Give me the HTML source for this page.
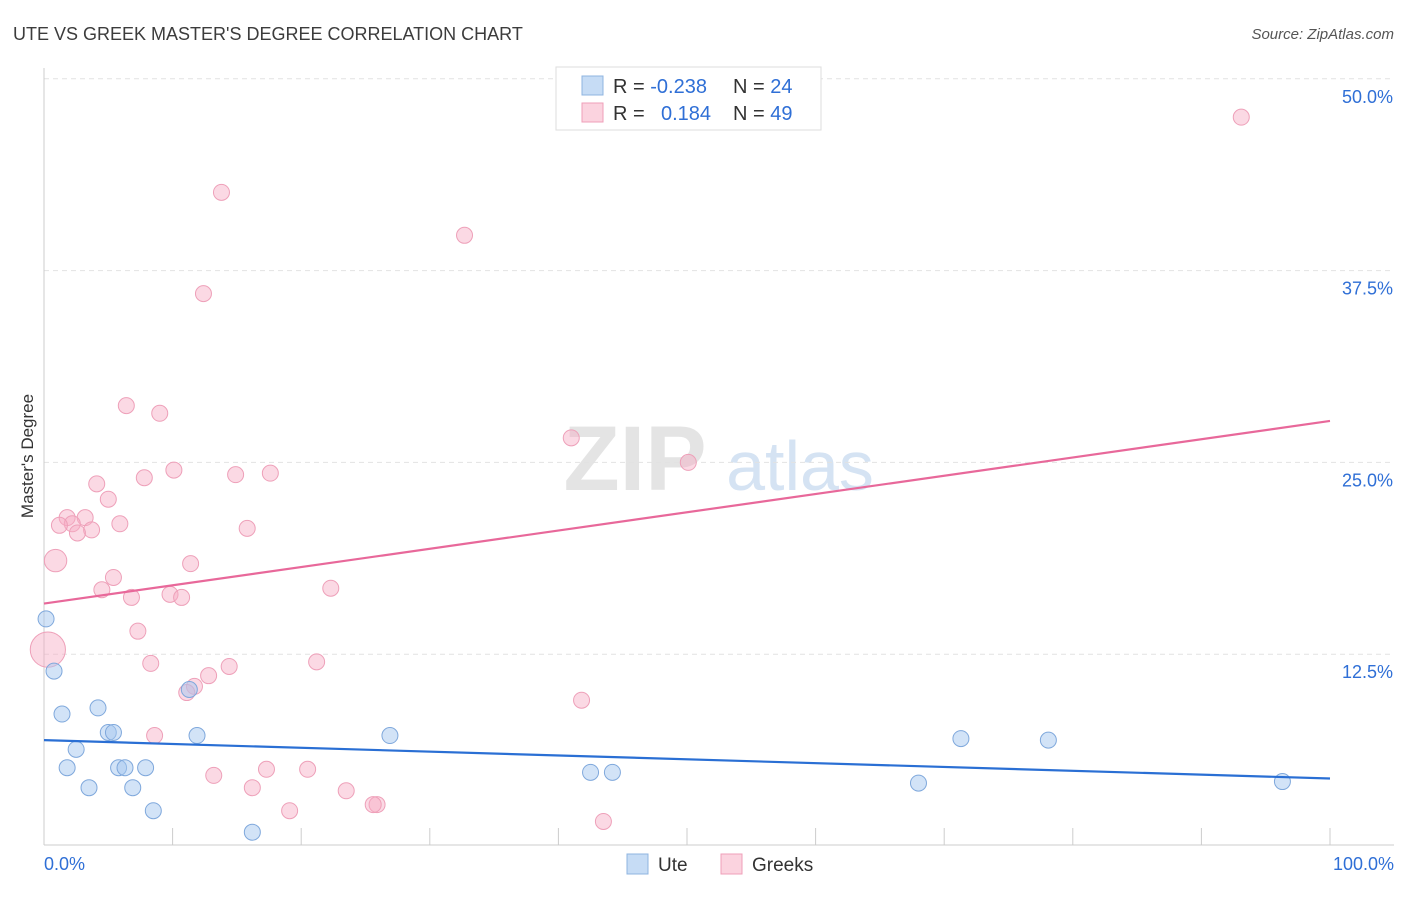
<!DOCTYPE html>
<html><head><meta charset="utf-8">
<style>
body{margin:0;background:#fff;font-family:"Liberation Sans",sans-serif;}
svg text{font-family:"Liberation Sans",sans-serif;}
</style></head>
<body>
<svg id="chart" width="1406" height="892" xmlns="http://www.w3.org/2000/svg">
<text x="13" y="40" font-size="18" fill="#3c3c3c">UTE VS GREEK MASTER'S DEGREE CORRELATION CHART</text>
<text x="1394" y="39" font-size="15" fill="#555" text-anchor="end" font-style="italic">Source: ZipAtlas.com</text>
<g>
<text x="635" y="490" font-size="92" fill="#e4e4e4" text-anchor="middle" font-family="Liberation Serif,serif" font-weight="bold">ZIP</text>
<text x="800" y="490" font-size="70" fill="#d5e3f3" text-anchor="middle">atlas</text>
</g>
<g id="grid"></g>
<g id="axes"></g>
<g id="marks"></g>
<text transform="translate(33,456) rotate(-90)" font-size="17" fill="#333" text-anchor="middle">Master's Degree</text>
<g>
<rect x="556" y="67" width="265" height="63" fill="#fff" stroke="#ddd"/>
<rect x="582" y="76" width="21" height="19" fill="#c6dcf5" stroke="#8fb4e0"/>
<rect x="582" y="103" width="21" height="19" fill="#fbd3df" stroke="#ef9fb8"/>
<text x="613" y="93" font-size="20" fill="#333">R = <tspan fill="#2f6fd6">-0.238</tspan></text>
<text x="733" y="93" font-size="20" fill="#333">N = <tspan fill="#2f6fd6">24</tspan></text>
<text x="613" y="120" font-size="20" fill="#333">R = <tspan fill="#2f6fd6" x="661">0.184</tspan></text>
<text x="733" y="120" font-size="20" fill="#333">N = <tspan fill="#2f6fd6">49</tspan></text>
</g>
<g>
<rect x="627" y="854" width="21" height="20" fill="#c6dcf5" stroke="#8fb4e0"/>
<text x="658" y="871" font-size="19" fill="#333">Ute</text>
<rect x="721" y="854" width="21" height="20" fill="#fbd3df" stroke="#ef9fb8"/>
<text x="752" y="871" font-size="19" fill="#333">Greeks</text>
</g>
</svg>
<script>
const yTicks=[12.5,25,37.5,50];
const yTickLabels=["12.5%","25.0%","37.5%","50.0%"];
const xTickLabels=["0.0%","100.0%"];
const uteX=[0.16,0.78,1.4,4.2,5.0,5.4,2.5,1.8,5.8,6.3,7.9,3.5,6.9,8.5,16.2,11.3,11.9,26.9,42.5,44.2,68.0,71.3,78.1,96.3];
const uteY=[14.8,11.4,8.6,9.0,7.4,7.4,6.3,5.1,5.1,5.1,5.1,3.8,3.8,2.3,0.9,10.2,7.2,7.2,4.8,4.8,4.1,7.0,6.9,4.2];
const grkX=[93.1,13.8,32.7,12.4,6.4,9.0,41.0,50.1,10.1,7.8,14.9,17.6,4.1,5.0,1.8,3.2,2.2,1.2,5.9,3.7,2.6,15.8,0.9,11.4,5.4,22.3,4.5,6.8,9.8,10.7,7.3,0.3,8.3,14.4,21.2,12.8,11.7,11.1,41.8,8.6,13.2,17.3,20.5,16.2,23.5,25.9,25.6,19.1,43.5];
const grkY=[47.5,42.6,39.8,36.0,28.7,28.2,26.6,25.0,24.5,24.0,24.2,24.3,23.6,22.6,21.4,21.4,21.0,20.9,21.0,20.6,20.4,20.7,18.6,18.4,17.5,16.8,16.7,16.2,16.4,16.2,14.0,12.8,11.9,11.7,12.0,11.1,10.4,10.0,9.5,7.2,4.6,5.0,5.0,3.8,3.6,2.7,2.7,2.3,1.6];
const grkSize=grkX.map((v,i)=>i===22?1.4:(i===31?2.2:1));
const uteTrend=[6.9,4.4];
const grkTrend=[15.8,27.7];

const NS="http://www.w3.org/2000/svg";
const X=v=>44+v*12.86;
const Y=v=>846-v*15.344;
function mk(tag,attrs,parent){const e=document.createElementNS(NS,tag);for(const k in attrs)e.setAttribute(k,attrs[k]);parent.appendChild(e);return e;}
const grid=document.getElementById('grid'),axes=document.getElementById('axes'),marks=document.getElementById('marks');
yTicks.forEach((t,i)=>{
  const l=mk('line',{x1:44,x2:1394,y1:Y(t),y2:Y(t),stroke:'#e2e2e2','stroke-dasharray':'5,4'},grid);
  
  
  const tx=mk('text',{x:1393,y:Y(t)+24,'font-size':18,fill:'#2f6fd6','text-anchor':'end'},axes);
  tx.textContent=yTickLabels[i];
  
  
});
mk('line',{x1:44,x2:1394,y1:845,y2:845,stroke:'#ccc'},axes);
mk('line',{x1:44,x2:44,y1:68,y2:845,stroke:'#ccc'},axes);
for(let i=0;i<=10;i++){mk('line',{x1:X(i*10),x2:X(i*10),y1:828,y2:845,stroke:'#ccc'},axes);}
[[0,'start',44],[100,'end',1394]].forEach((d,i)=>{
  const tx=mk('text',{x:d[2],y:870,'font-size':18,fill:'#2f6fd6','text-anchor':d[1]},axes);
  tx.textContent=xTickLabels[i];
  
  
});
grkX.forEach((x,i)=>{
  const c=mk('circle',{cx:X(x),cy:Y(grkY[i]),r:8*grkSize[i],fill:'rgba(246,170,195,0.45)',stroke:'#eea0b9','stroke-width':1},marks);
  
  
});
uteX.forEach((x,i)=>{
  const c=mk('circle',{cx:X(x),cy:Y(uteY[i]),r:8,fill:'rgba(165,200,240,0.5)',stroke:'#7fa8dc','stroke-width':1},marks);
  
  
});
const pl=mk('line',{x1:X(0),y1:Y(grkTrend[0]),x2:X(100),y2:Y(grkTrend[1]),stroke:'#e8689a','stroke-width':2.2},marks);


const bl=mk('line',{x1:X(0),y1:Y(uteTrend[0]),x2:X(100),y2:Y(uteTrend[1]),stroke:'#2a6fd4','stroke-width':2.2},marks);


</script>
</body></html>
